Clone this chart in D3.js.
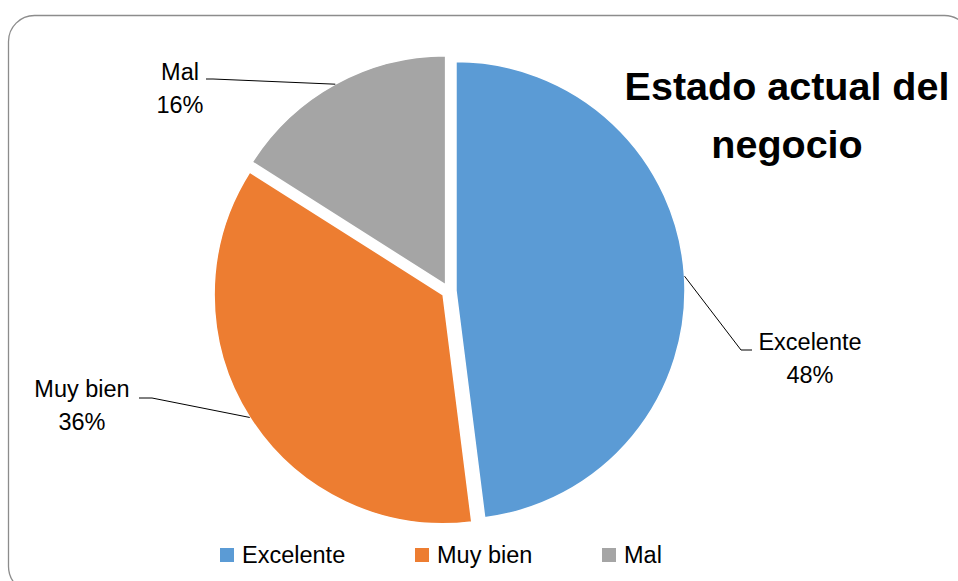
<!DOCTYPE html>
<html lang="es">
<head>
<meta charset="UTF-8">
<script src="https://d3js.org/d3.v7.min.js"></script>
<title>Estado actual del negocio</title>
<style>
  body { margin: 0; background: #fff; }
  svg { display: block; font-family: "Liberation Sans", Arial, sans-serif; }
  .lbl { font-size: 23.5px; fill: #000; }
  .title { font-size: 39.5px; font-weight: bold; fill: #000; }
</style>
</head>
<body>
<script>
// data
var categories = ["Excelente", "Muy bien", "Mal"];
var percents = [48, 36, 16];
var colors = ["#5B9BD5", "#ED7D31", "#A5A5A5"];
var titleLines = ["Estado actual del", "negocio"];

var width = 958, height = 581;
var cx = 449, cy = 291, radius = 229, explode = 7;

// label elbow points (where the leader turns horizontal), and text centre
var labelPos = [
  {ex: 741, ey: 350, hx: 752, tx: 810, ty: 350},
  {ex: 152, ey: 398, hx: 139, tx: 82, ty: 397},
  {ex: 213, ey: 79, hx: 206, tx: 180, ty: 80}
];

var svg = d3.select("body").append("svg")
    .attr("width", width)
    .attr("height", height);

// chart frame
svg.append("rect")
    .attr("x", 8.5).attr("y", 15.5)
    .attr("width", 962).attr("height", 577)
    .attr("rx", 26).attr("ry", 26)
    .attr("fill", "#fff")
    .attr("stroke", "#8c8c8c")
    .attr("stroke-width", 1.3);

var pie = d3.pie().sort(null).value(function(d) { return d; });
var arcs = pie(percents);
var arc = d3.arc().innerRadius(0).outerRadius(radius);

function dir(a) { return [Math.sin(a), -Math.cos(a)]; }

var g = svg.append("g").attr("transform", "translate(" + cx + "," + cy + ")");

arcs.forEach(function(d, i) {
  var mid = (d.startAngle + d.endAngle) / 2;
  var v = dir(mid);
  d.ox = v[0] * explode;
  d.oy = v[1] * explode;
  d.mid = mid;
});

g.selectAll(".slice")
    .data(arcs)
  .enter().append("path")
    .attr("class", "slice")
    .attr("transform", function(d) { return "translate(" + d.ox + "," + d.oy + ")"; })
    .attr("d", arc)
    .attr("fill", function(d, i) { return colors[i]; })
    .attr("stroke", "#fff")
    .attr("stroke-width", 1.5);

// leader lines + data labels
arcs.forEach(function(d, i) {
  var v = dir(d.mid);
  var px = cx + d.ox + v[0] * radius;
  var py = cy + d.oy + v[1] * radius;
  var p = labelPos[i];
  svg.append("polyline")
      .attr("points", [[px, py], [p.ex, p.ey], [p.hx, p.ey]].map(function(q) { return q.join(","); }).join(" "))
      .attr("fill", "none")
      .attr("stroke", "#000")
      .attr("stroke-width", 1);
  var t = svg.append("text")
      .attr("class", "lbl")
      .attr("text-anchor", "middle")
      .attr("x", p.tx)
      .attr("y", p.ty);
  t.append("tspan").attr("x", p.tx).text(categories[i]);
  t.append("tspan").attr("x", p.tx).attr("dy", 33).text(percents[i] + "%");
});

// title
var title = svg.append("text")
    .attr("class", "title")
    .attr("text-anchor", "middle")
    .attr("x", 787)
    .attr("y", 100);
titleLines.forEach(function(s, i) {
  title.append("tspan").attr("x", 787).attr("dy", i ? 58 : 0).text(s);
});

// legend
var legendX = [220, 415, 602];
var legend = svg.selectAll(".legend")
    .data(categories)
  .enter().append("g")
    .attr("class", "legend")
    .attr("transform", function(d, i) { return "translate(" + legendX[i] + ",548)"; });

legend.append("rect")
    .attr("width", 14)
    .attr("height", 14)
    .attr("fill", function(d, i) { return colors[i]; });

legend.append("text")
    .attr("class", "lbl")
    .attr("x", 22)
    .attr("y", 15)
    .text(function(d) { return d; });
</script>
</body>
</html>
